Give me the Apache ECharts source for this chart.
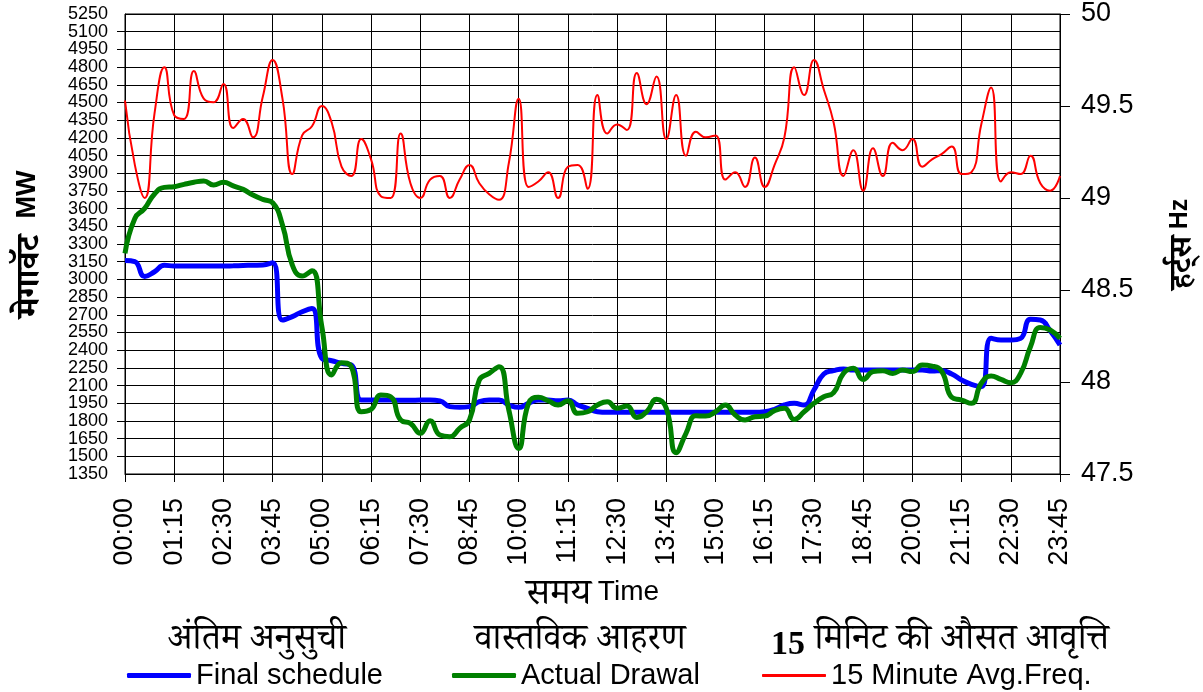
<html>
<head>
<meta charset="utf-8">
<script src="https://cdn.jsdelivr.net/npm/echarts@6/dist/echarts.min.js"></script>
<style>
html, body { margin: 0; padding: 0; background: #fff; }
#main { width: 1203px; height: 692px; }
</style>
</head>
<body>
<div id="main"></div>
<script>
// 15-minute time blocks
var times = [
    '00:00','00:15','00:30','00:45','01:00','01:15','01:30','01:45','02:00','02:15','02:30','02:45',
    '03:00','03:15','03:30','03:45','04:00','04:15','04:30','04:45','05:00','05:15','05:30','05:45',
    '06:00','06:15','06:30','06:45','07:00','07:15','07:30','07:45','08:00','08:15','08:30','08:45',
    '09:00','09:15','09:30','09:45','10:00','10:15','10:30','10:45','11:00','11:15','11:30','11:45',
    '12:00','12:15','12:30','12:45','13:00','13:15','13:30','13:45','14:00','14:15','14:30','14:45',
    '15:00','15:15','15:30','15:45','16:00','16:15','16:30','16:45','17:00','17:15','17:30','17:45',
    '18:00','18:15','18:30','18:45','19:00','19:15','19:30','19:45','20:00','20:15','20:30','20:45',
    '21:00','21:15','21:30','21:45','22:00','22:15','22:30','22:45','23:00','23:15','23:30','23:45'
];

// Final schedule, MW
var schedule = [
    3160, 3150, 3025, 3065, 3120, 3113, 3113, 3113, 3113, 3113, 3113, 3115,
    3118, 3120, 3122, 3140, 2655, 2684, 2726, 2754, 2330, 2310, 2288, 2274,
    1977, 1977, 1977, 1977, 1975, 1975, 1977, 1977, 1970, 1921, 1915, 1921,
    1963, 1977, 1977, 1935, 1915, 1949, 1977, 1977, 1971, 1977, 1935, 1907,
    1878, 1873, 1873, 1873, 1873, 1873, 1873, 1873, 1873, 1873, 1873, 1873,
    1873, 1873, 1873, 1873, 1873, 1878, 1898, 1935, 1949, 1935, 2062, 2198,
    2226, 2240, 2232, 2232, 2232, 2232, 2232, 2232, 2232, 2232, 2223, 2226,
    2198, 2147, 2110, 2090, 2500, 2486, 2486, 2500, 2661, 2655, 2565, 2443
];

// Actual drawal, MW
var drawal = [
    3221, 3517, 3602, 3724, 3780, 3786, 3806, 3823, 3834, 3800, 3823, 3792,
    3763, 3715, 3678, 3650, 3461, 3122, 3028, 3074, 2599, 2189, 2294, 2260,
    1878, 1898, 2020, 2005, 1808, 1779, 1695, 1802, 1680, 1666, 1737, 1808,
    2147, 2203, 2260, 1892, 1567, 1949, 2000, 1971, 1935, 1971, 1864, 1878,
    1935, 1963, 1907, 1926, 1830, 1878, 1983, 1907, 1531, 1695, 1844, 1841,
    1878, 1935, 1850, 1808, 1836, 1841, 1887, 1907, 1813, 1878, 1949, 2005,
    2039, 2203, 2246, 2152, 2218, 2226, 2203, 2232, 2218, 2274, 2265, 2218,
    2000, 1977, 1949, 2119, 2181, 2152, 2124, 2203, 2429, 2593, 2571, 2500
];

// 15 minute average frequency, Hz
var freq = [
    49.53, 49.18, 49.00, 49.46, 49.71, 49.45, 49.43, 49.69, 49.54, 49.52, 49.62, 49.38,
    49.43, 49.33, 49.55, 49.75, 49.54, 49.13, 49.34, 49.39, 49.50, 49.41, 49.17, 49.12,
    49.32, 49.21, 49.01, 49.00, 49.35, 49.08, 49.00, 49.10, 49.12, 49.00, 49.10, 49.18,
    49.08, 49.02, 48.99, 49.19, 49.54, 49.06, 49.09, 49.14, 49.00, 49.17, 49.18, 49.05,
    49.56, 49.35, 49.40, 49.37, 49.68, 49.51, 49.66, 49.32, 49.56, 49.23, 49.36, 49.33,
    49.34, 49.10, 49.14, 49.06, 49.22, 49.06, 49.18, 49.33, 49.71, 49.56, 49.75, 49.59,
    49.41, 49.12, 49.26, 49.04, 49.27, 49.12, 49.30, 49.26, 49.32, 49.17, 49.21, 49.24,
    49.28, 49.13, 49.14, 49.40, 49.60, 49.09, 49.14, 49.13, 49.23, 49.08, 49.04, 49.12
];

var mwMin = 1350, mwMax = 5250, mwStep = 150;
var hzMin = 47.5, hzMax = 50, hzStep = 0.5;

var seriesNames = ['Final schedule', 'Actual Drawal', '15 Minute Avg.Freq.'];
var seriesColors = ['#0000ff', '#008000', '#ff0000'];
var hindiNames = ['अंतिम अनुसुची', 'वास्तविक आहरण', '{num|15} मिनिट की औसत आवृत्ति'];

var latin = "'Liberation Sans', Arial, sans-serif";
var deva = "'Noto Serif Devanagari', 'Noto Sans Devanagari', 'Lohit Devanagari', 'FreeSerif', serif";

var chart = echarts.init(document.getElementById('main'));

function legendFor(i, left, thick) {
    return {
        left: left,
        top: 661,
        data: [seriesNames[i]],
        icon: 'roundRect',
        itemWidth: 64,
        itemHeight: thick,
        padding: 0,
        textStyle: { fontSize: 29, fontFamily: latin, color: '#000' }
    };
}

function hindiText(i, x) {
    return {
        type: 'text', x: x, y: 645,
        style: {
            text: hindiNames[i], fontSize: 36, fontFamily: deva, fill: '#000',
            align: 'center', verticalAlign: 'middle',
            rich: { num: { fontSize: 34, fontWeight: 'bold', fontFamily: "'Liberation Serif', serif" } }
        }
    };
}

function nameRich(hiSize, enSize, bold) {
    return {
        lineHeight: 40,
        rich: {
            hi: { fontSize: hiSize, lineHeight: 40, fontWeight: bold ? 'bold' : 'normal', fontFamily: deva, color: '#000', verticalAlign: 'middle' },
            en: { fontSize: enSize, lineHeight: 40, padding: [0, 0, 16, 0], fontWeight: bold ? 'bold' : 'normal', fontFamily: latin, color: '#000', verticalAlign: 'middle' }
        }
    };
}

// left MW labels: main axis carries the inner ticks, a twin axis only the end labels
var mwLabel = { fontSize: 18, fontFamily: latin, color: '#000', margin: 17 };

chart.setOption({
    animation: false,
    backgroundColor: '#fff',
    grid: {
        left: 125,
        right: 143,
        top: 14,
        bottom: 218,
        outerBoundsMode: 'none',
        show: true,
        borderColor: '#000',
        borderWidth: 1
    },
    legend: [
        legendFor(0, 127, 5),
        legendFor(1, 452, 5),
        legendFor(2, 762, 3)
    ],
    graphic: [
        hindiText(0, 257),
        hindiText(1, 580),
        hindiText(2, 940)
    ],
    xAxis: {
        type: 'category',
        data: times,
        boundaryGap: false,
        name: '{hi|समय}  {en|Time}',
        nameLocation: 'middle',
        nameGap: 106,
        nameTextStyle: nameRich(37, 28, false),
        axisLine: { lineStyle: { color: '#000', width: 1 } },
        axisTick: { interval: 4, length: 8, lineStyle: { color: '#000' } },
        axisLabel: {
            interval: 4,
            rotate: 90,
            margin: 24,
            fontSize: 27,
            fontFamily: latin,
            color: '#000'
        },
        splitLine: { show: true, interval: 4, lineStyle: { color: '#000', width: 1 } }
    },
    yAxis: [
        {
            type: 'value',
            min: mwMin,
            max: mwMax,
            interval: mwStep,
            name: '{hi|मेगावॅट}     {en|MW}',
            nameLocation: 'middle',
            nameRotate: 90,
            nameGap: 65,
            nameTextStyle: nameRich(34, 27, true),
            axisLine: { show: true, lineStyle: { color: '#000', width: 1 } },
            axisTick: { show: true, length: 8, lineStyle: { color: '#000' } },
            axisLabel: Object.assign({
                showMinLabel: false, showMaxLabel: false,
                formatter: function (v) { return String(v); }
            }, mwLabel),
            splitLine: { show: true, lineStyle: { color: '#000', width: 1 } }
        },
        {
            type: 'value',
            min: hzMin,
            max: hzMax,
            interval: hzStep,
            position: 'right',
            name: '{hi|हर्ट्स}  {en|Hz}',
            nameLocation: 'middle',
            nameRotate: 90,
            nameGap: 108,
            nameTextStyle: nameRich(32, 25, true),
            axisLine: { show: true, lineStyle: { color: '#000', width: 1 } },
            axisTick: { show: true, length: 10, lineStyle: { color: '#000' } },
            axisLabel: { fontSize: 27, fontFamily: latin, color: '#000', margin: 21 },
            splitLine: { show: false }
        },
        {
            type: 'value',
            min: mwMin,
            max: mwMax,
            interval: mwStep,
            position: 'left',
            axisLine: { show: false },
            axisTick: { show: false },
            splitLine: { show: false },
            axisLabel: Object.assign({
                showMinLabel: true, showMaxLabel: true,
                formatter: function (v) { return (v === mwMin || v === mwMax) ? String(v) : ''; }
            }, mwLabel)
        }
    ],
    series: [
        {
            name: seriesNames[0],
            type: 'line',
            data: schedule,
            yAxisIndex: 0,
            smooth: true,
            symbol: 'none',
            lineStyle: { color: seriesColors[0], width: 5 },
            itemStyle: { color: seriesColors[0] }
        },
        {
            name: seriesNames[1],
            type: 'line',
            data: drawal,
            yAxisIndex: 0,
            smooth: true,
            symbol: 'none',
            lineStyle: { color: seriesColors[1], width: 5 },
            itemStyle: { color: seriesColors[1] }
        },
        {
            name: seriesNames[2],
            type: 'line',
            data: freq,
            yAxisIndex: 1,
            smooth: true,
            symbol: 'none',
            lineStyle: { color: seriesColors[2], width: 2 },
            itemStyle: { color: seriesColors[2] }
        }
    ]
});

window.onresize = chart.resize;
</script>
</body>
</html>
